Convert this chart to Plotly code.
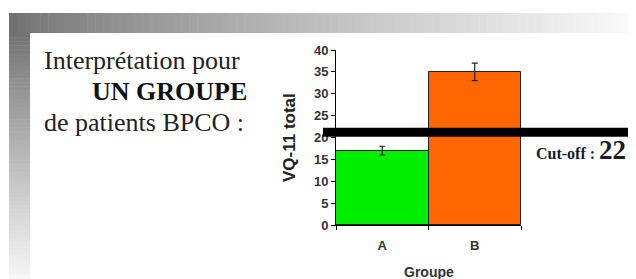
import plotly.graph_objects as go

# ---- data ----
groups = ["A", "B"]
vq11_totals = [17, 35]
vq11_errors = [1, 2]
cutoff_line_value = 21.2
cutoff_label = "22"
y_ticks = [0, 5, 10, 15, 20, 25, 30, 35, 40]

# page has an 8px body margin: figure occupies window pixels 8..636 x 8..279
OFF = 8
W, H = 636 - OFF, 279 - OFF
def px(x):
    return (x - OFF) / W
def py(y):
    return 1 - (y - OFF) / H

fig = go.Figure()
fig.add_trace(go.Bar(
    x=groups, y=vq11_totals,
    marker=dict(color=["#00ee00", "#ff6600"], line=dict(color="#222", width=1)),
    error_y=dict(type="data", array=vq11_errors, color="#222", thickness=1.2, width=3),
    width=1,
))

shapes = []
# top gradient band
n = 80
x0, x1 = 9, 636
for i in range(n):
    t = i / (n - 1)
    g = int(0x70 + (0xfa - 0x70) * min(1, t ** 0.8))
    col = f"rgb({g},{g},{g})"
    xa = x0 + (x1 - x0) * i / n
    xb = x0 + (x1 - x0) * (i + 1) / n + 0.5
    shapes.append(dict(type="rect", xref="paper", yref="paper", x0=px(xa), x1=px(xb),
                       y0=py(33), y1=py(13), fillcolor=col, line=dict(width=0), layer="below"))
# left gradient band
m = 60
ya, yb = 33, 279
for i in range(m):
    t = i / (m - 1)
    g = int(0x72 + (0xf6 - 0x72) * min(1, t ** 0.9))
    col = f"rgb({g},{g},{g})"
    y0 = ya + (yb - ya) * i / m
    y1 = ya + (yb - ya) * (i + 1) / m + 0.5
    shapes.append(dict(type="rect", xref="paper", yref="paper", x0=px(9), x1=px(30),
                       y0=py(y1), y1=py(y0), fillcolor=col, line=dict(width=0), layer="below"))
# cut-off line
shapes.append(dict(type="line", xref="paper", yref="y", x0=px(323), x1=1,
                   y0=cutoff_line_value, y1=cutoff_line_value,
                   line=dict(color="black", width=9), layer="above"))

serif = "Liberation Serif, Times New Roman, serif"
sans = "Liberation Sans, Arial, sans-serif"
annotations = [
    dict(text="Interprétation pour", x=px(42), y=py(60), xanchor="left", yanchor="middle",
         font=dict(family=serif, size=26, color="#222")),
    dict(text="<b>UN GROUPE</b>", x=px(249), y=py(91), xanchor="right", yanchor="middle",
         font=dict(family=serif, size=26, color="#111")),
    dict(text="de patients BPCO :", x=px(42), y=py(122), xanchor="left", yanchor="middle",
         font=dict(family=serif, size=26, color="#222")),
    dict(text="<b>Cut-off : </b><span style='font-size:27px'><b>" + cutoff_label + "</b></span>",
         x=px(534), y=py(150), xanchor="left", yanchor="middle",
         font=dict(family=serif, size=16, color="#1a1a2a")),
    dict(text="<b>VQ-11 total</b>", x=px(290), y=py(138), xanchor="center", yanchor="middle",
         textangle=-90, font=dict(family=sans, size=17, color="#222")),
    dict(text="<b>Groupe</b>", x=px(429), y=py(272), xanchor="center", yanchor="middle",
         font=dict(family=sans, size=14, color="#333")),
]
for a in annotations:
    a.update(xref="paper", yref="paper", showarrow=False)

fig.update_layout(
    width=W, height=H, margin=dict(l=0, r=0, t=0, b=0),
    paper_bgcolor="white", plot_bgcolor="white",
    showlegend=False, bargap=0,
    shapes=shapes, annotations=annotations,
    xaxis=dict(domain=[px(336), px(521)], type="category", showline=True, linecolor="black",
               linewidth=1, ticks="outside", ticklen=4, tickcolor="black", tickson="boundaries",
               ticklabelstandoff=8,
               tickfont=dict(family=sans, size=13, color="#333", weight="bold"),
               showgrid=False, zeroline=False, automargin=False, fixedrange=True),
    yaxis=dict(domain=[py(225), py(50)], range=[0, 40], tickvals=y_ticks,
               showline=True, linecolor="black", linewidth=1, ticks="outside", ticklen=4,
               tickcolor="black", tickfont=dict(family=sans, size=13, color="#333", weight="bold"),
               showgrid=False, zeroline=False, automargin=False),
)
fig.write_html("out.html")
